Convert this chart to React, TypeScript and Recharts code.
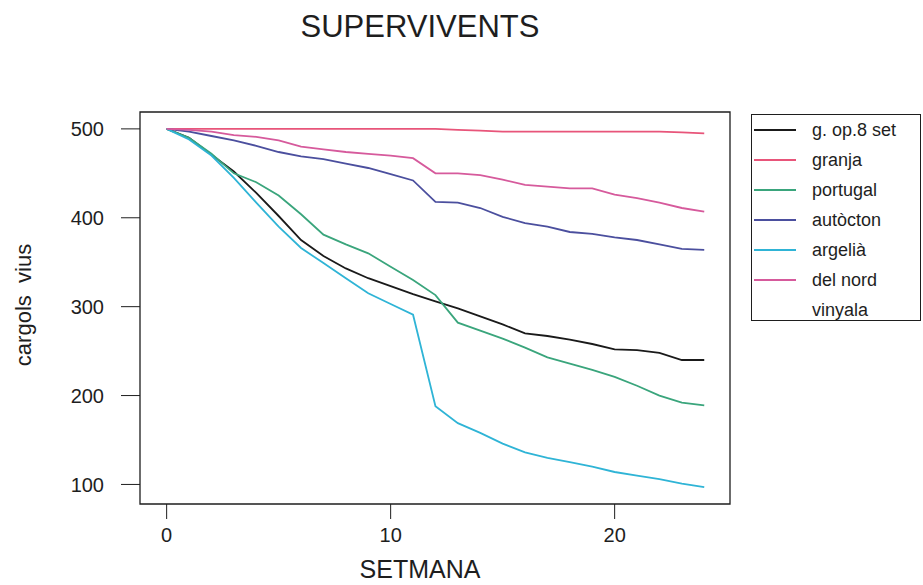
import { LineChart, Line, XAxis, YAxis, ReferenceArea } from 'recharts'

const weeks = [0, 1, 2, 3, 4, 5, 6, 7, 8, 9, 10, 11, 12, 13, 14, 15, 16, 17, 18, 19, 20, 21, 22, 23, 24]

const gOp8Set  = [500, 490, 471, 452, 428, 402, 375, 357, 343, 332, 323, 314, 306, 298, 289, 280, 270, 267, 263, 258, 252, 251, 248, 240, 240]
const granja   = [500, 500, 500, 500, 500, 500, 500, 500, 500, 500, 500, 500, 500, 499, 498, 497, 497, 497, 497, 497, 497, 497, 497, 496, 495]
const portugal = [500, 490, 472, 450, 440, 425, 404, 381, 370, 360, 345, 330, 313, 282, 273, 264, 254, 243, 236, 229, 221, 211, 200, 192, 189]
const autocton = [500, 497, 492, 487, 481, 474, 469, 466, 461, 456, 449, 442, 418, 417, 411, 401, 394, 390, 384, 382, 378, 375, 370, 365, 364]
const argelia  = [500, 488, 470, 445, 417, 390, 366, 349, 332, 315, 303, 291, 188, 169, 158, 146, 136, 130, 125, 120, 114, 110, 106, 101, 97]
const delNord  = [500, 499, 497, 493, 491, 487, 480, 477, 474, 472, 470, 467, 450, 450, 448, 443, 437, 435, 433, 433, 426, 422, 417, 411, 407]

const xTicks = [0, 10, 20]
const yTicks = [100, 200, 300, 400, 500]

const series = [
  { key: 'gop8', name: 'g. op.8 set', color: '#1a1a1a', values: gOp8Set },
  { key: 'granja', name: 'granja', color: '#e8557a', values: granja },
  { key: 'portugal', name: 'portugal', color: '#3aa57c', values: portugal },
  { key: 'autocton', name: 'autòcton', color: '#4b4f9e', values: autocton },
  { key: 'argelia', name: 'argelià', color: '#2fb4d6', values: argelia },
  { key: 'delnord', name: 'del nord', color: '#d65a9c', values: delNord },
  { key: 'vinyala', name: 'vinyala', color: 'transparent', values: null as number[] | null },
]

const data = weeks.map((w, i) => {
  const row: Record<string, number> = { week: w }
  series.forEach(s => { if (s.values) row[s.key] = s.values[i] })
  return row
})

const X_MIN = -1.19
const X_MAX = 25.15
const Y_MIN = 78
const Y_MAX = 519

const FONT = '"Liberation Sans", Arial, sans-serif'
const INK = '#1e1e1e'

export default function App() {
  return (
    <div style={{ position: 'absolute', left: 0, top: 0, width: 923, height: 585, background: '#fff', fontFamily: FONT, color: INK }}>

      {/* Title */}
      <div style={{ position: 'absolute', left: 420, top: 11, transform: 'translateX(-50%)', fontSize: 31, lineHeight: 1, whiteSpace: 'nowrap' }}>
        SUPERVIVENTS
      </div>

      <LineChart width={923} height={585} data={data} margin={{ top: 112, left: 80, right: 193, bottom: 41 }}>
        <XAxis
          dataKey="week" type="number" domain={[X_MIN, X_MAX]} ticks={xTicks} allowDataOverflow
          axisLine={false} tickSize={15} tickMargin={9} height={40}
          tickLine={{ stroke: INK }} tick={{ fill: INK, fontSize: 20, fontFamily: FONT }}
        />
        <YAxis
          type="number" domain={[Y_MIN, Y_MAX]} ticks={yTicks} allowDataOverflow
          axisLine={false} tickSize={19} tickMargin={17} width={60}
          tickLine={{ stroke: INK }} tick={{ fill: INK, fontSize: 20, fontFamily: FONT }}
        />
        <ReferenceArea x1={X_MIN} x2={X_MAX} y1={Y_MIN} y2={Y_MAX} fill="none" stroke={INK} strokeWidth={1.3} />
        {series.filter(s => s.values).map(s => (
          <Line key={s.key} type="linear" dataKey={s.key} stroke={s.color} strokeWidth={1.8} dot={false} isAnimationActive={false} />
        ))}
      </LineChart>

      {/* Axis titles */}
      <div style={{ position: 'absolute', left: 420, top: 557, transform: 'translateX(-50%)', fontSize: 25, lineHeight: 1, whiteSpace: 'nowrap' }}>
        SETMANA
      </div>
      <div style={{ position: 'absolute', left: 24, top: 305, transform: 'translate(-50%, -50%) rotate(-90deg)', fontSize: 22, lineHeight: 1, whiteSpace: 'pre' }}>
        cargols  vius
      </div>

      {/* Legend */}
      <div style={{ position: 'absolute', left: 751, top: 114, width: 168, height: 205, border: `1.5px solid ${INK}` }}>
        {series.map((s, i) => (
          <div key={s.key} style={{ position: 'absolute', left: 0, top: 3 + i * 30, height: 24, width: 168, display: 'flex', alignItems: 'center' }}>
            <div style={{ marginLeft: 2, width: 42, height: 2, background: s.color }} />
            <div style={{ marginLeft: 16, fontSize: 18, whiteSpace: 'nowrap' }}>{s.name}</div>
          </div>
        ))}
      </div>
    </div>
  )
}
